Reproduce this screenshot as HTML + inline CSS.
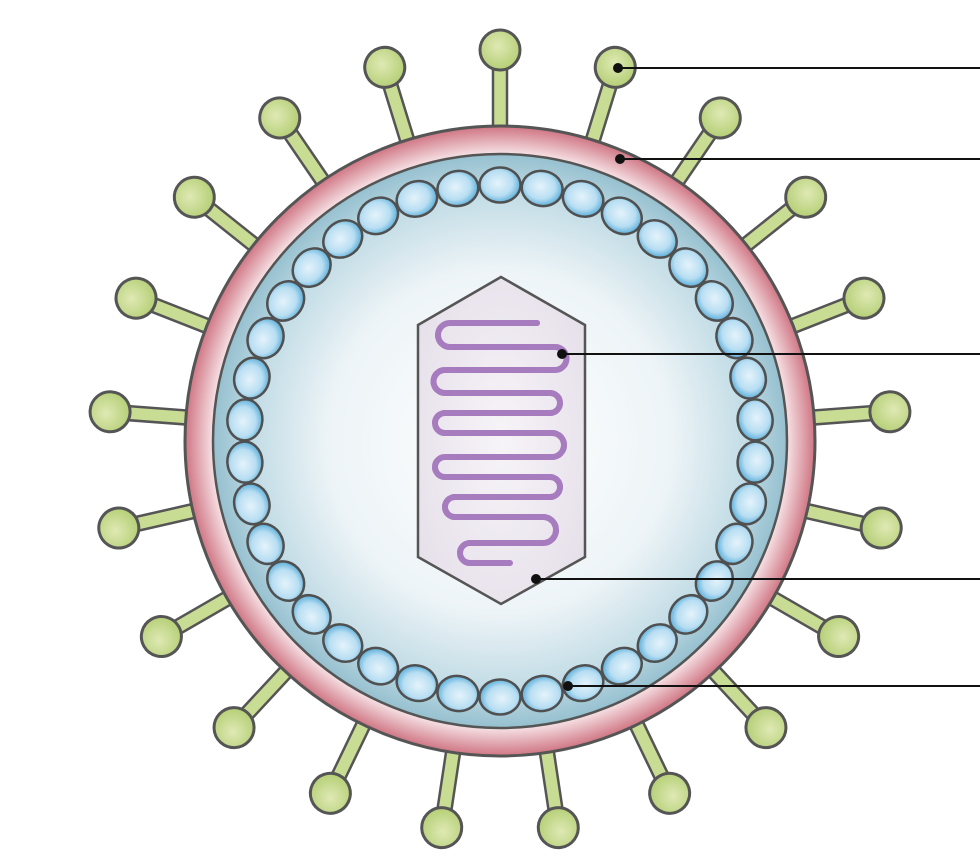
<!DOCTYPE html>
<html><head><meta charset="utf-8"><style>html,body{margin:0;padding:0;background:#fff;}svg{display:block}</style></head>
<body>
<svg width="980" height="862" viewBox="0 0 980 862" xmlns="http://www.w3.org/2000/svg">
<defs>
<radialGradient id="ball" cx="0.45" cy="0.4" r="0.6"><stop offset="0" stop-color="#dfe9b4"/><stop offset="1" stop-color="#b5cf76"/></radialGradient>
<radialGradient id="pink" cx="500" cy="441" r="315" gradientUnits="userSpaceOnUse"><stop offset="0.9" stop-color="#fbf0f2"/><stop offset="1" stop-color="#cf7583"/></radialGradient>
<radialGradient id="blue" cx="500" cy="441" r="287" gradientUnits="userSpaceOnUse"><stop offset="0" stop-color="#ffffff"/><stop offset="0.6" stop-color="#edf4f7"/><stop offset="0.85" stop-color="#c4dde6"/><stop offset="1" stop-color="#96c0cf"/></radialGradient>
<radialGradient id="cap" cx="0.45" cy="0.45" r="0.6"><stop offset="0" stop-color="#e4f3fb"/><stop offset="0.6" stop-color="#b8def2"/><stop offset="1" stop-color="#4aa6d6"/></radialGradient>
<radialGradient id="hex" cx="0.5" cy="0.5" r="0.6"><stop offset="0" stop-color="#f7f4f8"/><stop offset="1" stop-color="#e6e0ea"/></radialGradient>
<g id="spike">
<rect x="493" y="55" width="14" height="80" fill="#c9dc93" stroke="#555" stroke-width="2.5"/>
<circle cx="500" cy="50" r="20" fill="url(#ball)" stroke="#555" stroke-width="3"/>
</g>
<ellipse id="c" cx="500" cy="185" rx="20.5" ry="17.5" fill="url(#cap)" stroke="#505050" stroke-width="2.5"/>
</defs>
<g>
<use href="#spike" transform="rotate(0 500 441)"/>
<use href="#spike" transform="rotate(17.143 500 441)"/>
<use href="#spike" transform="rotate(34.286 500 441)"/>
<use href="#spike" transform="rotate(51.429 500 441)"/>
<use href="#spike" transform="rotate(68.571 500 441)"/>
<use href="#spike" transform="rotate(85.714 500 441)"/>
<use href="#spike" transform="rotate(102.857 500 441)"/>
<use href="#spike" transform="rotate(120 500 441)"/>
<use href="#spike" transform="rotate(137.143 500 441)"/>
<use href="#spike" transform="rotate(154.286 500 441)"/>
<use href="#spike" transform="rotate(171.429 500 441)"/>
<use href="#spike" transform="rotate(188.571 500 441)"/>
<use href="#spike" transform="rotate(205.714 500 441)"/>
<use href="#spike" transform="rotate(222.857 500 441)"/>
<use href="#spike" transform="rotate(240 500 441)"/>
<use href="#spike" transform="rotate(257.143 500 441)"/>
<use href="#spike" transform="rotate(274.286 500 441)"/>
<use href="#spike" transform="rotate(291.429 500 441)"/>
<use href="#spike" transform="rotate(308.571 500 441)"/>
<use href="#spike" transform="rotate(325.714 500 441)"/>
<use href="#spike" transform="rotate(342.857 500 441)"/>
</g>
<circle cx="500" cy="441" r="315" fill="url(#pink)" stroke="#555" stroke-width="3"/>
<circle cx="500" cy="441" r="287" fill="url(#blue)" stroke="#555" stroke-width="2.5"/>
<g>
<use href="#c" transform="rotate(0 500 441)"/><use href="#c" transform="rotate(9.474 500 441)"/><use href="#c" transform="rotate(18.947 500 441)"/><use href="#c" transform="rotate(28.421 500 441)"/><use href="#c" transform="rotate(37.895 500 441)"/><use href="#c" transform="rotate(47.368 500 441)"/><use href="#c" transform="rotate(56.842 500 441)"/><use href="#c" transform="rotate(66.316 500 441)"/><use href="#c" transform="rotate(75.789 500 441)"/><use href="#c" transform="rotate(85.263 500 441)"/>
<use href="#c" transform="rotate(94.737 500 441)"/><use href="#c" transform="rotate(104.211 500 441)"/><use href="#c" transform="rotate(113.684 500 441)"/><use href="#c" transform="rotate(123.158 500 441)"/><use href="#c" transform="rotate(132.632 500 441)"/><use href="#c" transform="rotate(142.105 500 441)"/><use href="#c" transform="rotate(151.579 500 441)"/><use href="#c" transform="rotate(161.053 500 441)"/><use href="#c" transform="rotate(170.526 500 441)"/><use href="#c" transform="rotate(180 500 441)"/>
<use href="#c" transform="rotate(189.474 500 441)"/><use href="#c" transform="rotate(198.947 500 441)"/><use href="#c" transform="rotate(208.421 500 441)"/><use href="#c" transform="rotate(217.895 500 441)"/><use href="#c" transform="rotate(227.368 500 441)"/><use href="#c" transform="rotate(236.842 500 441)"/><use href="#c" transform="rotate(246.316 500 441)"/><use href="#c" transform="rotate(255.789 500 441)"/><use href="#c" transform="rotate(265.263 500 441)"/><use href="#c" transform="rotate(274.737 500 441)"/>
<use href="#c" transform="rotate(284.211 500 441)"/><use href="#c" transform="rotate(293.684 500 441)"/><use href="#c" transform="rotate(303.158 500 441)"/><use href="#c" transform="rotate(312.632 500 441)"/><use href="#c" transform="rotate(322.105 500 441)"/><use href="#c" transform="rotate(331.579 500 441)"/><use href="#c" transform="rotate(341.053 500 441)"/><use href="#c" transform="rotate(350.526 500 441)"/>
</g>
<polygon points="501,277 585,325 585,557 501,604 418,557 418,325" fill="url(#hex)" stroke="#555" stroke-width="2.5"/>
<g fill="none" stroke-linecap="round">
<path id="dna" d="M537,323 L450,323 A12,12 0 0 0 450,347 L555,347 A11.5,11.5 0 0 1 555,370 L445,370 A11.5,11.5 0 0 0 445,393 L550,393 A10,10 0 0 1 550,413 L445,413 A10,10 0 0 0 445,433 L552,433 A12,12 0 0 1 552,457 L445,457 A10,10 0 0 0 445,477 L550,477 A10,10 0 0 1 550,497 L455,497 A10,10 0 0 0 455,517 L543,517 A13,13 0 0 1 543,543 L470,543 A10,10 0 0 0 470,563 L510,563" stroke="#a77cbf" stroke-width="6"/>
<use href="#dna" stroke="#f3ecf6" stroke-width="3" stroke-dasharray="3 4"/>
</g>
<g stroke="#111" stroke-width="2" fill="#111">
<line x1="618" y1="68" x2="980" y2="68"/><circle cx="618" cy="68" r="4"/>
<line x1="620" y1="159" x2="980" y2="159"/><circle cx="620" cy="159" r="4"/>
<line x1="562" y1="354" x2="980" y2="354"/><circle cx="562" cy="354" r="4"/>
<line x1="536" y1="579" x2="980" y2="579"/><circle cx="536" cy="579" r="4"/>
<line x1="568" y1="686" x2="980" y2="686"/><circle cx="568" cy="686" r="4"/>
</g>
</svg>
</body></html>
